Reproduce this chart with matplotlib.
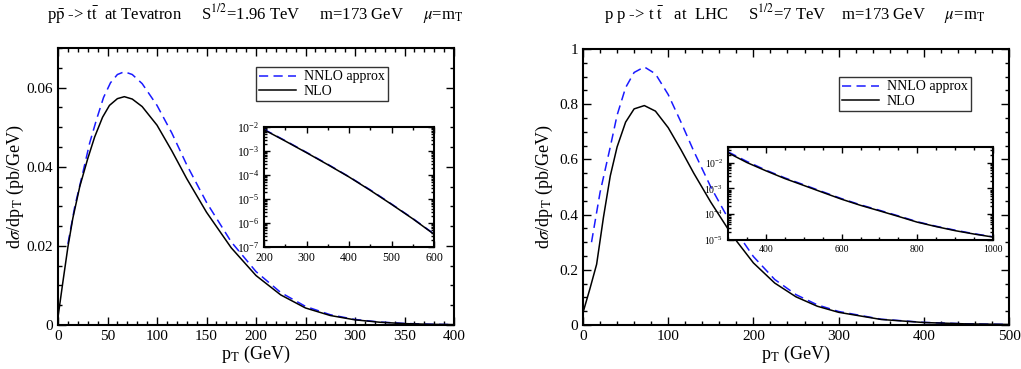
import matplotlib
matplotlib.use("Agg")
import matplotlib.pyplot as plt
from matplotlib.ticker import MultipleLocator, LogLocator, NullFormatter

plt.rcParams['font.family'] = ['Liberation Serif', 'DejaVu Serif']
plt.rcParams['mathtext.fontset'] = 'stix'

# ---- Tevatron (left) ----
tev_pt_nlo = [0, 5, 10, 15, 22, 30, 37, 45, 52, 60, 67, 75, 85, 100, 115, 130, 150, 175, 200, 225, 250, 275, 300, 325, 350, 375, 400]
tev_nlo = [0.002, 0.011, 0.0197, 0.027, 0.035, 0.042, 0.0475, 0.0525, 0.0555, 0.0572, 0.0577, 0.0571, 0.0552, 0.0505, 0.0440, 0.0370, 0.0285, 0.0195, 0.0125, 0.0076, 0.0043, 0.0024, 0.0013, 0.0007, 0.00035, 0.00018, 0.0001]
tev_pt_nnlo = [10, 17, 25, 32, 39, 46, 53, 60, 67, 75, 85, 100, 115, 130, 150, 175, 200, 225, 250, 275, 300, 325, 350, 375, 400]
tev_nnlo = [0.0205, 0.030, 0.0384, 0.046, 0.052, 0.0575, 0.0612, 0.0633, 0.0640, 0.0633, 0.0610, 0.0555, 0.0485, 0.0405, 0.0310, 0.0210, 0.0135, 0.0082, 0.0047, 0.0026, 0.0014, 0.00075, 0.0004, 0.0002, 0.0001]
tev_ins_pt = [200, 250, 300, 350, 400, 450, 500, 550, 600]
tev_ins_nlo = [7.7e-3, 2.6e-3, 8.5e-4, 2.7e-4, 8.3e-5, 2.3e-5, 6.0e-6, 1.5e-6, 3.4e-7]
tev_ins_nnlo = [8.0e-3, 2.7e-3, 8.8e-4, 2.8e-4, 8.5e-5, 2.4e-5, 6.2e-6, 1.55e-6, 3.5e-7]

# ---- LHC (right) ----
lhc_pt_nlo = [0, 8, 16, 24, 32, 40, 50, 60, 72, 85, 100, 115, 130, 150, 175, 200, 225, 250, 275, 300, 350, 400, 450, 500]
lhc_nlo = [0.045, 0.13, 0.22, 0.39, 0.54, 0.645, 0.735, 0.783, 0.795, 0.775, 0.715, 0.635, 0.550, 0.445, 0.325, 0.225, 0.152, 0.102, 0.068, 0.046, 0.020, 0.009, 0.004, 0.002]
lhc_pt_nnlo = [10, 20, 32, 40, 50, 60, 72, 85, 100, 115, 130, 150, 175, 200, 225, 250, 275, 300, 350, 400, 450, 500]
lhc_nnlo = [0.30, 0.48, 0.645, 0.76, 0.86, 0.915, 0.935, 0.91, 0.835, 0.735, 0.630, 0.500, 0.360, 0.248, 0.165, 0.110, 0.073, 0.049, 0.021, 0.0095, 0.0043, 0.002]
lhc_ins_pt = [300, 350, 400, 450, 500, 550, 600, 650, 700, 750, 800, 850, 900, 950, 1000]
lhc_ins_nlo = [2.4e-2, 1.0e-2, 4.8e-3, 2.4e-3, 1.3e-3, 7.0e-4, 3.8e-4, 2.2e-4, 1.35e-4, 8.2e-5, 4.9e-5, 3.3e-5, 2.3e-5, 1.7e-5, 1.3e-5]
lhc_ins_nnlo = [2.6e-2, 1.1e-2, 5.1e-3, 2.55e-3, 1.38e-3, 7.4e-4, 4.0e-4, 2.3e-4, 1.42e-4, 8.6e-5, 5.1e-5, 3.4e-5, 2.4e-5, 1.75e-5, 1.33e-5]

W, H = 1021, 369
fig = plt.figure(figsize=(W / 100, H / 100), dpi=100)

def rect(x0, y0, x1, y1):
    return [x0 / W, 1 - y1 / H, (x1 - x0) / W, (y1 - y0) / H]

def style(ax, fs=11):
    ax.tick_params(which='both', direction='in', top=True, right=True, labelsize=fs)
    ax.tick_params(which='major', length=6, width=1)
    ax.tick_params(which='minor', length=3, width=1)
    for s in ax.spines.values():
        s.set_linewidth(1.5)

NNLO_C = '#1a1aff'
DASH = (0, (6, 3.5))
LEG_KW = dict(fontsize=10, frameon=True, fancybox=False, edgecolor='black',
              handlelength=2.6, borderpad=0.25, labelspacing=0.1, handletextpad=0.6,
              borderaxespad=0)

# Left main
ax1 = fig.add_axes(rect(58, 48, 454, 325))
ax1.plot(tev_pt_nnlo, tev_nnlo, color=NNLO_C, ls=DASH, lw=1.1, label='NNLO approx')
ax1.plot(tev_pt_nlo, tev_nlo, color='black', lw=1.1, label='NLO')
ax1.set_xlim(0, 400)
ax1.set_ylim(0, 0.07)
ax1.xaxis.set_major_locator(MultipleLocator(50))
ax1.xaxis.set_minor_locator(MultipleLocator(10))
ax1.yaxis.set_minor_locator(MultipleLocator(0.005))
ax1.set_yticks([0, 0.02, 0.04, 0.06])
ax1.set_yticklabels(['0', '0.02', '0.04', '0.06'])
ax1.set_xlabel(r'p$_\mathrm{T}$ (GeV)', fontsize=13, labelpad=1)
ax1.set_ylabel(r'd$\sigma$/dp$_\mathrm{T}$ (pb/GeV)', fontsize=13)
ax1.yaxis.set_label_coords(-0.082, 0.5)
style(ax1)
leg1 = ax1.legend(loc='upper left', bbox_to_anchor=((256 - 58) / 396, 1 - (67 - 48) / 277), **LEG_KW)
leg1.get_frame().set_linewidth(1.0)
fig.text(255 / W, 1 - 14 / H,
         r'p$\bar{\mathrm{p}}$ -> t$\bar{\mathrm{t}}$  at Tevatron     S$^{1/2}$=1.96 TeV     m=173 GeV     $\mu$=m$_\mathrm{T}$',
         ha='center', va='center', fontsize=12)

# Left inset
ia1 = fig.add_axes(rect(264, 127, 434, 247))
ia1.semilogy(tev_ins_pt, tev_ins_nnlo, color=NNLO_C, ls=DASH, lw=1.1)
ia1.semilogy(tev_ins_pt, tev_ins_nlo, color='black', lw=1.1)
ia1.set_xlim(200, 600)
ia1.set_ylim(1e-7, 1e-2)
ia1.xaxis.set_major_locator(MultipleLocator(100))
ia1.xaxis.set_minor_locator(MultipleLocator(50))
ia1.yaxis.set_major_locator(LogLocator(base=10, numticks=10))
ia1.yaxis.set_minor_locator(LogLocator(base=10, subs=range(2, 10), numticks=20))
ia1.yaxis.set_minor_formatter(NullFormatter())
style(ia1, fs=8.5)
ia1.tick_params(which='major', length=4)
ia1.tick_params(which='minor', length=2)

# Right main
ax2 = fig.add_axes(rect(583, 49, 1009, 325))
ax2.plot(lhc_pt_nnlo, lhc_nnlo, color=NNLO_C, ls=DASH, lw=1.1, label='NNLO approx')
ax2.plot(lhc_pt_nlo, lhc_nlo, color='black', lw=1.1, label='NLO')
ax2.set_xlim(0, 500)
ax2.set_ylim(0, 1)
ax2.xaxis.set_major_locator(MultipleLocator(100))
ax2.xaxis.set_minor_locator(MultipleLocator(20))
ax2.yaxis.set_minor_locator(MultipleLocator(0.05))
ax2.set_yticks([0, 0.2, 0.4, 0.6, 0.8, 1.0])
ax2.set_yticklabels(['0', '0.2', '0.4', '0.6', '0.8', '1'])
ax2.set_xlabel(r'p$_\mathrm{T}$ (GeV)', fontsize=13, labelpad=1)
ax2.set_ylabel(r'd$\sigma$/dp$_\mathrm{T}$ (pb/GeV)', fontsize=13)
ax2.yaxis.set_label_coords(-0.066, 0.5)
style(ax2)
leg2 = ax2.legend(loc='upper left', bbox_to_anchor=((839 - 583) / 426, 1 - (77 - 49) / 276), **LEG_KW)
leg2.get_frame().set_linewidth(1.0)
fig.text(795 / W, 1 - 14 / H,
         r'p p -> t $\bar{\mathrm{t}}$   at  LHC     S$^{1/2}$=7 TeV    m=173 GeV     $\mu$=m$_\mathrm{T}$',
         ha='center', va='center', fontsize=12)

# Right inset
ia2 = fig.add_axes(rect(728, 147, 993, 240))
ia2.semilogy(lhc_ins_pt, lhc_ins_nnlo, color=NNLO_C, ls=DASH, lw=1.1)
ia2.semilogy(lhc_ins_pt, lhc_ins_nlo, color='black', lw=1.1)
ia2.set_xlim(300, 1000)
ia2.set_ylim(1e-5, 4e-2)
ia2.xaxis.set_major_locator(MultipleLocator(200))
ia2.xaxis.set_minor_locator(MultipleLocator(50))
ia2.yaxis.set_major_locator(LogLocator(base=10, numticks=10))
ia2.yaxis.set_minor_locator(LogLocator(base=10, subs=range(2, 10), numticks=20))
ia2.yaxis.set_minor_formatter(NullFormatter())
style(ia2, fs=7)
ia2.tick_params(which='major', length=4)
ia2.tick_params(which='minor', length=2)

fig.savefig('out.png', dpi=100)
